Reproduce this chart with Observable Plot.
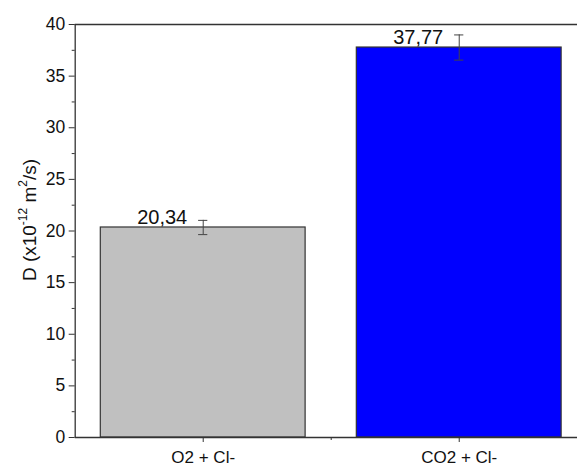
<!DOCTYPE html>
<html>
<head>
<meta charset="utf-8">
<script src="https://cdn.jsdelivr.net/npm/d3@7"></script>
<script src="https://cdn.jsdelivr.net/npm/@observablehq/plot@0.6"></script>
<style>
  html, body { margin: 0; padding: 0; background: white; overflow: hidden; }
</style>
</head>
<body>
<div id="wrap"></div>
<script>
const categories = ["O2 + Cl-", "CO2 + Cl-"];
const values = [20.34, 37.77];
const errors = [0.69, 1.22];
const valueLabels = ["20,34", "37,77"];
const colors = ["#c0c0c0", "#0000ff"];
const yMajorTicks = [0, 5, 10, 15, 20, 25, 30, 35, 40];
const yMinorTicks = [2.5, 7.5, 12.5, 17.5, 22.5, 27.5, 32.5, 37.5];

const data = categories.map((c, i) => ({
  pos: i + 1, cat: c, value: values[i], err: errors[i], label: valueLabels[i], color: colors[i]
}));

const W = 577, H = 466;
const chart = Plot.plot({
  width: W, height: H,
  marginLeft: 74.7, marginRight: 0, marginTop: 24, marginBottom: 29,
  style: { fontFamily: "Liberation Sans, Arial, sans-serif", background: "white", overflow: "hidden" },
  x: { type: "linear", domain: [0.5, 2.462] },
  y: { domain: [0, 40] },
  marks: [
    Plot.rectY(data, { x1: d => d.pos - 0.4, x2: d => d.pos + 0.4, y: "value", fill: "color", stroke: "#333", strokeWidth: 1.2 }),
    Plot.ruleX(data, { x: "pos", y1: d => d.value - d.err, y2: d => d.value + d.err, stroke: "#444", strokeWidth: 1 }),
    Plot.ruleY(data, { y: d => d.value - d.err, x1: d => d.pos - 0.018, x2: d => d.pos + 0.018, stroke: "#444", strokeWidth: 1 }),
    Plot.ruleY(data, { y: d => d.value + d.err, x1: d => d.pos - 0.018, x2: d => d.pos + 0.018, stroke: "#444", strokeWidth: 1 }),
    Plot.text(data, { x: "pos", y: "value", text: "label", dx: -41, dy: -3.5, lineAnchor: "bottom", fontSize: 20, fill: "#111" }),
    Plot.ruleY([0, 40], { stroke: "#333", strokeWidth: 1.3 }),
    Plot.ruleX([0.5], { stroke: "#333", strokeWidth: 1.3 }),
    Plot.axisY({ ticks: yMajorTicks, tickSize: 6, tickPadding: 4, fontSize: 17.5, label: null, stroke: "#333", color: "#111" }),
    Plot.axisY({ ticks: yMinorTicks, tickSize: 3, tickFormat: () => "", label: null, stroke: "#333" }),
    Plot.axisX({ ticks: [1, 2], tickFormat: d => categories[d - 1], tickSize: 5, tickPadding: 8, fontSize: 17, label: null, stroke: "#333", color: "#111" }),
    Plot.axisX({ ticks: [1.5], tickSize: 3, tickFormat: () => "", label: null, stroke: "#333" })
  ]
});

document.getElementById("wrap").appendChild(chart);

// rotated y-axis title with superscripts
const svg = d3.select(chart);
const t = svg.append("text")
  .attr("transform", "translate(31,220) rotate(-90)")
  .attr("text-anchor", "middle")
  .attr("dominant-baseline", "middle")
  .attr("font-size", 19)
  .attr("fill", "#111")
  .attr("font-family", "Liberation Sans, Arial, sans-serif");
t.append("tspan").text("D (x10");
t.append("tspan").attr("font-size", 12).attr("dy", -7).text("-12");
t.append("tspan").attr("dy", 7).text(" m");
t.append("tspan").attr("font-size", 12).attr("dy", -7).text("2");
t.append("tspan").attr("dy", 7).text("/s)");
</script>
</body>
</html>
